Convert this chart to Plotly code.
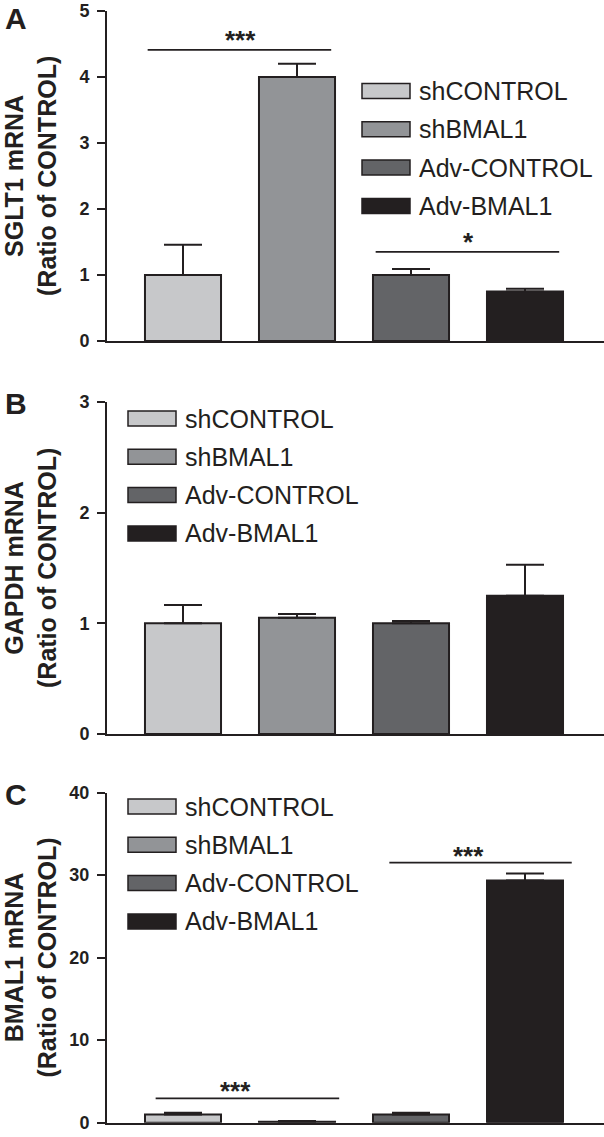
import plotly.graph_objects as go

# ---------------- data ----------------
groups = ["shCONTROL", "shBMAL1", "Adv-CONTROL", "Adv-BMAL1"]
bar_colors = ["#c7c8ca", "#929497", "#636467", "#231f20"]

sglt1_mean = [1.0, 4.0, 1.0, 0.75]
sglt1_sem = [0.46, 0.20, 0.09, 0.04]

gapdh_mean = [1.0, 1.05, 1.0, 1.25]
gapdh_sem = [0.165, 0.035, 0.02, 0.28]

bmal1_mean = [1.0, 0.12, 1.0, 29.35]
bmal1_sem = [0.22, 0.08, 0.22, 0.85]

# significance brackets: (x start, x end, y, label, label x)
sglt1_sig = [(-0.31, 1.30, 4.41, "***", 0.5), (1.69, 3.30, 1.35, "*", 2.5)]
gapdh_sig = []
bmal1_sig = [(-0.24, 1.37, 2.95, "***", 0.46), (1.81, 3.41, 31.5, "***", 2.5)]

sglt1_ticks = [0, 1, 2, 3, 4, 5]
gapdh_ticks = [0, 1, 2, 3]
bmal1_ticks = [0, 10, 20, 30, 40]

# ---------------- layout helpers ----------------
W, H = 604, 1137
L = 107
INK = "#231f20"
FONT = "Liberation Sans, Arial, sans-serif"


def fx(px):
    return (px - L) / (W - L)


def fy(py):
    return 1 - py / H


panels = [
    dict(letter="A", title="SGLT1 mRNA<br>(Ratio of CONTROL)", mean=sglt1_mean, sem=sglt1_sem,
         ticks=sglt1_ticks, sig=sglt1_sig, top=11, bottom=341, leg_x=362, leg_y=91, letter_y=18,
         star_shift=10),
    dict(letter="B", title="GAPDH mRNA<br>(Ratio of CONTROL)", mean=gapdh_mean, sem=gapdh_sem,
         ticks=gapdh_ticks, sig=gapdh_sig, top=402, bottom=734, leg_x=128, leg_y=418.5, letter_y=403,
         star_shift=8),
    dict(letter="C", title="BMAL1 mRNA<br>(Ratio of CONTROL)", mean=bmal1_mean, sem=bmal1_sem,
         ticks=bmal1_ticks, sig=bmal1_sig, top=792.5, bottom=1122.7, leg_x=128, leg_y=806.5, letter_y=794,
         star_shift=7),
]

x_positions = list(range(len(groups)))
xrange = [-0.6667, 3.693]
leg_step = 38.3

fig = go.Figure()
shapes = []
annotations = []
layout_axes = {}

for i, p in enumerate(panels):
    n = "" if i == 0 else str(i + 1)
    xa, ya = "x" + n, "y" + n
    fig.add_trace(go.Bar(
        x=x_positions, y=p["mean"], width=0.667,
        marker=dict(color=bar_colors, line=dict(color=INK, width=2)),
        error_y=dict(type="data", array=p["sem"], arrayminus=[0] * len(groups), symmetric=False,
                     color=INK, thickness=2, width=19),
        xaxis=xa, yaxis=ya, showlegend=False, hoverinfo="skip",
    ))
    layout_axes["xaxis" + n] = dict(
        domain=[0, 1], range=xrange, anchor=ya, showline=True, linecolor=INK, linewidth=2,
        showticklabels=False, ticks="", showgrid=False, zeroline=False, fixedrange=True,
    )
    layout_axes["yaxis" + n] = dict(
        domain=[fy(p["bottom"]), fy(p["top"])], range=[0, p["ticks"][-1]], anchor=xa,
        tickvals=p["ticks"], ticktext=[str(t) for t in p["ticks"]],
        ticks="outside", ticklen=8, tickwidth=2, tickcolor=INK, ticklabelstandoff=4,
        showline=True, linecolor=INK, linewidth=2, showgrid=False, zeroline=False,
        tickfont=dict(family=FONT, size=18, color=INK, weight="bold"), fixedrange=True,
    )
    # y title
    annotations.append(dict(
        text=p["title"], xref="paper", yref="paper", x=fx(31), y=fy((p["top"] + p["bottom"]) / 2),
        xanchor="center", yanchor="middle", textangle=-90, showarrow=False,
        font=dict(family=FONT, size=25, color=INK, weight="bold"),
    ))
    # panel letter
    annotations.append(dict(
        text=p["letter"], xref="paper", yref="paper", x=fx(16), y=fy(p["letter_y"]),
        xanchor="center", yanchor="middle", showarrow=False,
        font=dict(family=FONT, size=30, color=INK, weight="bold"),
    ))
    # legend (swatches + labels)
    for k, g in enumerate(groups):
        cy = p["leg_y"] + k * leg_step
        shapes.append(dict(
            type="rect", xref="paper", yref="paper",
            x0=fx(p["leg_x"]), x1=fx(p["leg_x"] + 48), y0=fy(cy + 7.5), y1=fy(cy - 7.5),
            fillcolor=bar_colors[k], line=dict(color=INK, width=1.5),
        ))
        annotations.append(dict(
            text=g, xref="paper", yref="paper", x=fx(p["leg_x"] + 55), y=fy(cy),
            xanchor="left", yanchor="middle", showarrow=False,
            font=dict(family=FONT, size=25, color=INK),
        ))
    # significance
    for (x0, x1, yv, lab, lx) in p["sig"]:
        shapes.append(dict(type="line", xref=xa, yref=ya, x0=x0, x1=x1, y0=yv, y1=yv,
                           line=dict(color=INK, width=1.8)))
        annotations.append(dict(
            text=lab, xref=xa, yref=ya, x=lx, y=yv, xanchor="center", yanchor="middle",
            yshift=p["star_shift"], showarrow=False,
            font=dict(family=FONT, size=26, color=INK, weight="bold"),
        ))

fig.update_layout(
    width=W, height=H,
    margin=dict(l=L, r=0, t=0, b=0, autoexpand=False),
    paper_bgcolor="white", plot_bgcolor="white",
    showlegend=False,
    shapes=shapes, annotations=annotations,
    **layout_axes,
)

fig.write_html(
    "out.html",
    config={"displayModeBar": False},
    post_script="document.body.style.margin='0';document.body.style.overflow='hidden';",
)
